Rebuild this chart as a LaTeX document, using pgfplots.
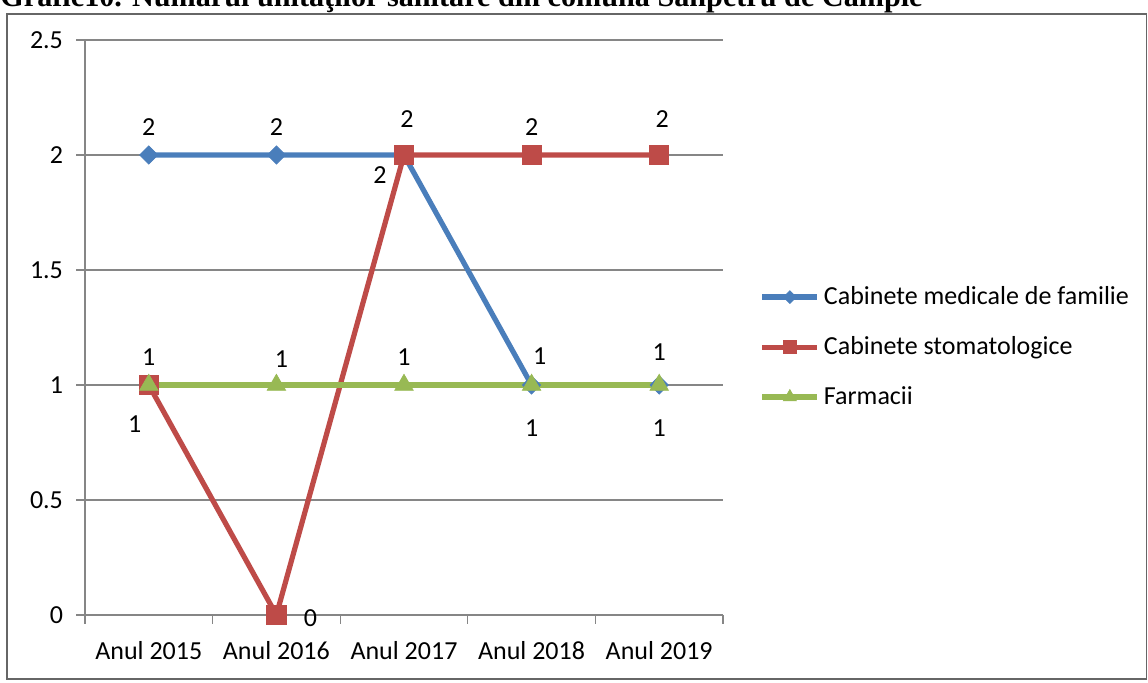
\documentclass[border=0pt]{standalone}
\usepackage{pgfplots}
\pgfplotsset{compat=1.18}
\usepackage{fontspec}
\setmainfont{Carlito}
\newfontfamily\titlefont{Liberation Serif}
\definecolor{cblue}{HTML}{4A7EBB}
\definecolor{cred}{HTML}{BE4B48}
\definecolor{cgreen}{HTML}{98B954}
\definecolor{cgrid}{HTML}{868686}
\pgfplotsset{lbl/.style={draw=none, mark=none, forget plot, nodes near coords, point meta=explicit symbolic,
  nodes near coords style={anchor=center, text=black, inner sep=0pt, font=\fontsize{13}{15}\selectfont}}}
\begin{document}
\begin{tikzpicture}
\path[use as bounding box] (0,0) rectangle (574pt,341.5pt);
\clip (0,0) rectangle (574pt,341.5pt);
\node[anchor=base west, inner sep=0pt, font=\titlefont\bfseries\fontsize{15.1}{17}\selectfont] at (0pt,338pt) {Grafic10. Numărul unităţilor sanitare din comuna Sânpetru de Câmpie};
\draw[black!60, line width=0.8pt] (3.5pt,2pt) rectangle (573.2pt,334.5pt);
\begin{axis}[
  at={(42.5pt,34pt)}, anchor=south west,
  scale only axis, width=319pt, height=287.5pt,
  xmin=-0.5, xmax=4.5, ymin=0, ymax=2.5,
  axis lines*=left,
  every outer x axis line/.append style={-},
  every outer y axis line/.append style={-},
  axis line style={cgrid, line width=0.6pt},
  ymajorgrids, major grid style={cgrid, line width=0.6pt},
  tick align=outside, major tick length=4.5pt,
  tick style={cgrid, line width=0.6pt},
  ytick={0,0.5,1,1.5,2,2.5}, yticklabels={0,0.5,1,1.5,2,2.5},
  yticklabel style={xshift=-3pt},
  xtick={-0.5,0.5,1.5,2.5,3.5,4.5}, xticklabels={},
  extra x ticks={0,1,2,3,4},
  extra x tick labels={Anul 2015,Anul 2016,Anul 2017,Anul 2018,Anul 2019},
  extra x tick style={major tick length=0pt, grid=none, xticklabel style={yshift=-9.5pt}},
  tick label style={font=\fontsize{13}{15}\selectfont},
  legend style={at={(1.057,0.466)}, anchor=west, draw=none, fill=none, inner sep=0pt,
    row sep=10.5pt, font=\fontsize{13}{15}\selectfont},
  legend cell align=left,
  legend image code/.code={\draw[mark indices={2},#1,every mark/.append style={scale=0.7}] plot coordinates {(0pt,0pt) (13.75pt,0pt) (27.5pt,0pt)};},
  clip=false,
]
\addplot[cblue, line width=2.6pt, mark=square*, mark size=3.2pt, mark options={solid, rotate=45, line width=0.4pt}] coordinates {(0,2) (1,2) (2,2) (3,1) (4,1)};
\addlegendentry{Cabinete medicale de familie}
\addplot[cred, line width=2.6pt, mark=square*, mark size=4.8pt, mark options={solid, line width=0.4pt}] coordinates {(0,1) (1,0) (2,2) (3,2) (4,2)};
\addlegendentry{Cabinete stomatologice}
\addplot[cgreen, line width=2.6pt, mark=triangle*, mark size=5.3pt, mark options={solid, line width=0.4pt}] coordinates {(0,1) (1,1) (2,1) (3,1) (4,1)};
\addlegendentry{Farmacii}
% data labels
\addplot[lbl, nodes near coords style={yshift=14pt}] coordinates {(0,2) [2] (1,2) [2] (3,2) [2] (2,1) [1] (0,1) [1]};
\addplot[lbl, nodes near coords style={xshift=2.5pt, yshift=13pt}] coordinates {(1,1) [1]};
\addplot[lbl, nodes near coords style={xshift=4pt, yshift=14.5pt}] coordinates {(3,1) [1]};
\addplot[lbl, nodes near coords style={yshift=16.5pt}] coordinates {(4,1) [1]};
\addplot[lbl, nodes near coords style={xshift=1.5pt, yshift=18pt}] coordinates {(2,2) [2] (4,2) [2]};
\addplot[lbl, nodes near coords style={xshift=-12pt, yshift=-10pt}] coordinates {(2,2) [2]};
\addplot[lbl, nodes near coords style={xshift=-7pt, yshift=-19.5pt}] coordinates {(0,1) [1]};
\addplot[lbl, nodes near coords style={yshift=-21.5pt}] coordinates {(3,1) [1] (4,1) [1]};
\addplot[lbl, nodes near coords style={xshift=17pt, yshift=-1.5pt}] coordinates {(1,0) [0]};
\end{axis}
\end{tikzpicture}
\end{document}
